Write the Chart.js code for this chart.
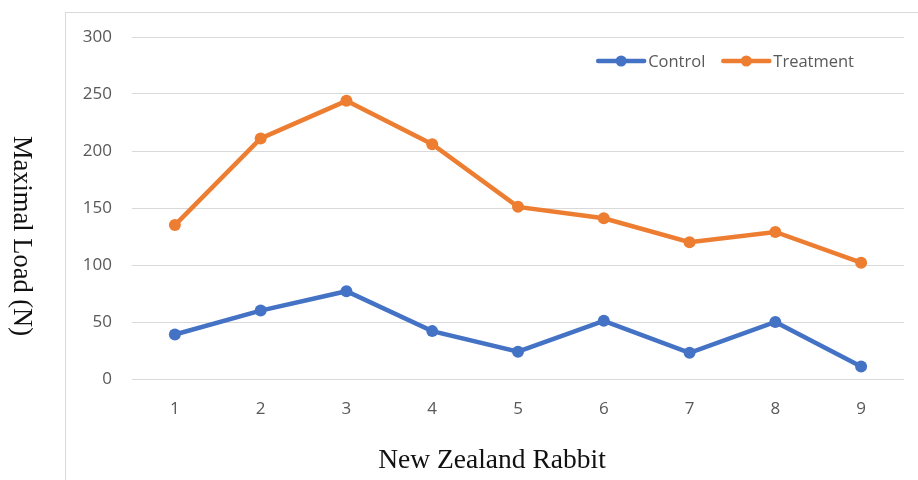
<!DOCTYPE html>
<html>
<head>
<meta charset="utf-8">
<script src="https://cdn.jsdelivr.net/npm/chart.js@4.4.1/dist/chart.umd.min.js"></script>
<style>
    html, body { margin: 0; padding: 0; background: #fff; }
    #wrap { position: relative; width: 918px; height: 480px; overflow: hidden; }
    #frame { position: absolute; left: 65px; top: 12px; width: 900px; height: 500px;
             border-left: 1px solid #d9d9d9; border-top: 1px solid #d9d9d9; }
    #myChart { position: absolute; left: 0; top: 0; }
</style>
</head>
<body>
<div id="wrap">
    <div id="frame"></div>
    <canvas id="myChart" width="918" height="480"></canvas>
</div>
<script>
// Rabbits 1-9
const rabbits = ["1", "2", "3", "4", "5", "6", "7", "8", "9"];

// Maximal load (N)
const control = [39, 60, 77, 42, 24, 51, 23, 50, 11];
const treatment = [135, 211, 244, 206, 151, 141, 120, 129, 102];

const seriesNames = ["Control", "Treatment"];
const seriesColors = ["#4472C4", "#ED7D31"];

const xTitle = "New Zealand Rabbit";
const yTitle = "Maximal Load (N)";

const tickFont = { family: "'Open Sans', sans-serif", size: 17 };
const legendFont = "16.5px 'Open Sans', sans-serif";

// Legend: line + marker, right side of the plot
const lineLegend = {
    id: "lineLegend",
    afterDraw(chart) {
        const ctx = chart.ctx;
        const area = chart.chartArea;
        ctx.save();
        ctx.font = legendFont;
        ctx.textBaseline = "middle";

        const items = chart.data.datasets.map(ds => ({
            label: ds.label,
            color: ds.borderColor,
            w: 50 + 3 + ctx.measureText(ds.label).width
        }));
        const gap = 15;
        const total = items.reduce((s, it) => s + it.w, 0) + gap * (items.length - 1);
        let x = area.right - 49 - total;
        const y = area.top + 24;

        items.forEach(it => {
            ctx.strokeStyle = it.color;
            ctx.lineWidth = 4.5;
            ctx.lineCap = "round";
            ctx.beginPath();
            ctx.moveTo(x + 2, y);
            ctx.lineTo(x + 48, y);
            ctx.stroke();
            ctx.fillStyle = it.color;
            ctx.beginPath();
            ctx.arc(x + 25, y, 5.5, 0, Math.PI * 2);
            ctx.fill();
            ctx.fillStyle = "#595959";
            ctx.fillText(it.label, x + 52, y + 1);
            x += it.w + gap;
        });
        ctx.restore();
    }
};

// Axis titles in serif
const axisTitles = {
    id: "axisTitles",
    afterDraw(chart) {
        const ctx = chart.ctx;
        ctx.save();
        ctx.fillStyle = "#111";
        ctx.textAlign = "center";
        ctx.textBaseline = "middle";
        ctx.font = "27.5px 'Liberation Serif', 'Times New Roman', serif";
        ctx.fillText(xTitle, 492, 461);

        ctx.translate(21, 236);
        ctx.rotate(Math.PI / 2);
        ctx.font = "26.5px 'Liberation Serif', 'Times New Roman', serif";
        ctx.fillText(yTitle, 0, 0);
        ctx.restore();
    }
};

const datasets = [control, treatment].map((values, i) => ({
    label: seriesNames[i],
    data: values,
    borderColor: seriesColors[i],
    backgroundColor: seriesColors[i],
    borderWidth: 4.5,
    pointRadius: 6,
    pointHoverRadius: 6,
    pointBorderWidth: 0,
    tension: 0
}));

const ctx = document.getElementById("myChart").getContext("2d");
new Chart(ctx, {
    type: "line",
    data: { labels: rabbits, datasets: datasets },
    options: {
        responsive: false,
        animation: false,
        layout: { padding: { left: 0, right: 14, top: 37, bottom: 0 } },
        plugins: {
            legend: { display: false },
            tooltip: { enabled: false }
        },
        scales: {
            x: {
                offset: true,
                grid: { display: false },
                border: { display: false },
                ticks: { color: "#595959", font: tickFont, padding: 12 },
                afterFit: s => { s.height = 101; }
            },
            y: {
                min: 0,
                max: 300,
                grid: { color: "#d9d9d9", lineWidth: 1, drawTicks: false },
                border: { display: false },
                ticks: { stepSize: 50, color: "#595959", font: tickFont, padding: 20 },
                afterFit: s => { s.width = 132; }
            }
        }
    },
    plugins: [lineLegend, axisTitles]
});
</script>
</body>
</html>
